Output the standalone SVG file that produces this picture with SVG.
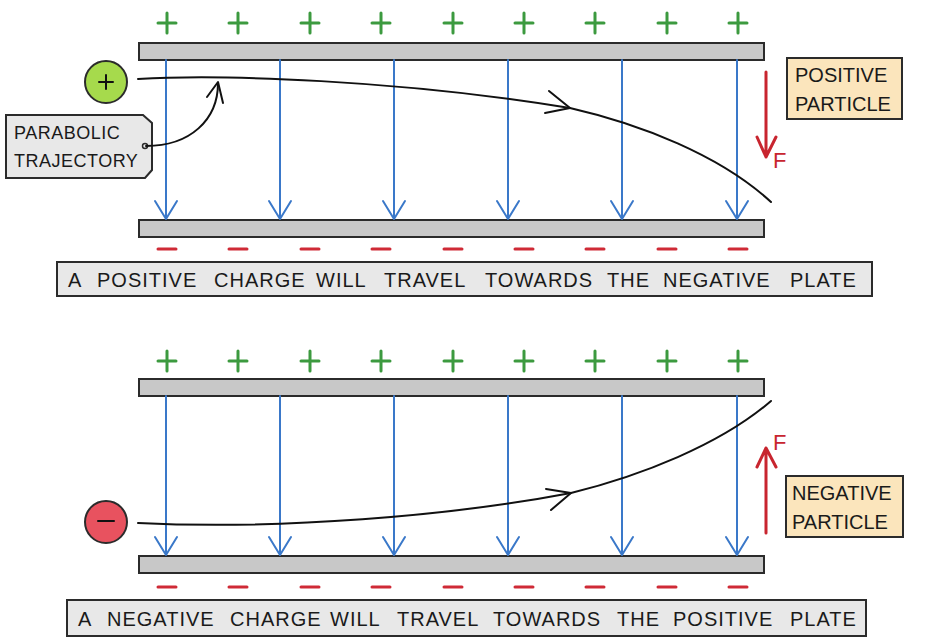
<svg xmlns="http://www.w3.org/2000/svg" width="934" height="640" viewBox="0 0 934 640">
<defs>
<style>
.plate{fill:#c8c8c8;stroke:#2b2b2b;stroke-width:2}
.plus{stroke:#3c9a3f;stroke-width:3;stroke-linecap:round;fill:none}
.minus{stroke:#cf2a36;stroke-width:3;stroke-linecap:round;fill:none}
.field{stroke:#3a78c9;stroke-width:2;fill:none;stroke-linecap:round;stroke-linejoin:round}
.traj{stroke:#111;stroke-width:2;fill:none;stroke-linecap:round;stroke-linejoin:round}
.force{stroke:#c8252f;stroke-width:3;fill:none;stroke-linecap:round;stroke-linejoin:round}
.t{font-family:"Liberation Sans",Arial,sans-serif;fill:#1a1a1a}
.cap{font-size:20px;letter-spacing:1px}
.lbl{fill:#fbe5bc;stroke:#2b2b2b;stroke-width:2}
.grey{fill:#e8e8e8;stroke:#2b2b2b;stroke-width:2}
.f{font-family:"Liberation Sans",Arial,sans-serif;font-size:22px;fill:#c8252f}
</style>
<g id="plusSym"><path class="plus" d="M-9,0H9M0,-10V10"/></g>
<g id="minusSym"><path class="minus" d="M-9,0H9"/></g>
<g id="fieldArrow"><path class="field" d="M0,0V159M-11,141L0,159L11,141"/></g>
</defs>

<!-- TOP DIAGRAM -->
<g id="top-plus-charges">
<use href="#plusSym" x="167" y="23"/><use href="#plusSym" x="238" y="23"/><use href="#plusSym" x="310" y="23"/>
<use href="#plusSym" x="381" y="23"/><use href="#plusSym" x="453" y="23"/><use href="#plusSym" x="524" y="23"/>
<use href="#plusSym" x="595" y="23"/><use href="#plusSym" x="667" y="23"/><use href="#plusSym" x="738" y="23"/>
</g>
<g id="top-positive-plate"><rect class="plate" x="139" y="43" width="625" height="17"/></g>
<g id="top-negative-plate"><rect class="plate" x="139" y="220" width="625" height="17"/></g>
<g id="top-minus-charges">
<use href="#minusSym" x="167" y="249"/><use href="#minusSym" x="238" y="249"/><use href="#minusSym" x="310" y="249"/>
<use href="#minusSym" x="381" y="249"/><use href="#minusSym" x="453" y="249"/><use href="#minusSym" x="524" y="249"/>
<use href="#minusSym" x="595" y="249"/><use href="#minusSym" x="667" y="249"/><use href="#minusSym" x="738" y="249"/>
</g>
<g id="top-field-lines">
<use href="#fieldArrow" x="166" y="60"/><use href="#fieldArrow" x="280" y="60"/><use href="#fieldArrow" x="394" y="60"/>
<use href="#fieldArrow" x="508" y="60"/><use href="#fieldArrow" x="622" y="60"/><use href="#fieldArrow" x="737" y="60"/>
</g>
<g id="positive-particle">
<circle cx="106" cy="82" r="21" fill="#a6da4c" stroke="#2b2b2b" stroke-width="2"/>
<path d="M99,82H113M106,75V89" stroke="#111" stroke-width="2" stroke-linecap="round"/>
</g>
<g id="parabolic-label">
<path class="grey" d="M6,115H143L152,123V170L145,178H6Z"/>
<circle cx="145" cy="146" r="2.5" fill="#e8e8e8" stroke="#2b2b2b" stroke-width="1.5"/>
<text class="t" x="14" y="139" font-size="18" letter-spacing="0.5">PARABOLIC</text>
<text class="t" x="14" y="167" font-size="18" letter-spacing="0.5">TRAJECTORY</text>
</g>
<g id="positive-label">
<rect class="lbl" x="787" y="58" width="115" height="61"/>
<text class="t" x="795" y="82" font-size="20">POSITIVE</text>
<text class="t" x="795" y="111" font-size="20">PARTICLE</text>
</g>
<g id="top-caption">
<rect class="grey" x="57" y="262" width="815" height="34"/>
<text class="t cap" y="287"><tspan x="68">A</tspan><tspan x="97">POSITIVE</tspan><tspan x="214">CHARGE</tspan><tspan x="316">WILL</tspan><tspan x="384">TRAVEL</tspan><tspan x="485">TOWARDS</tspan><tspan x="607">THE</tspan><tspan x="663">NEGATIVE</tspan><tspan x="790">PLATE</tspan></text>
</g>
<g id="top-force">
<path class="force" d="M766,72V157M757,137L766,157L776,137"/>
<text class="f" x="773" y="168">F</text>
</g>

<!-- BOTTOM DIAGRAM -->
<g id="bottom-plus-charges">
<use href="#plusSym" x="167" y="361"/><use href="#plusSym" x="238" y="361"/><use href="#plusSym" x="310" y="361"/>
<use href="#plusSym" x="381" y="361"/><use href="#plusSym" x="453" y="361"/><use href="#plusSym" x="524" y="361"/>
<use href="#plusSym" x="595" y="361"/><use href="#plusSym" x="667" y="361"/><use href="#plusSym" x="738" y="361"/>
</g>
<g id="bottom-positive-plate"><rect class="plate" x="139" y="379" width="625" height="17"/></g>
<g id="bottom-negative-plate"><rect class="plate" x="139" y="556" width="625" height="17"/></g>
<g id="bottom-minus-charges">
<use href="#minusSym" x="167" y="587"/><use href="#minusSym" x="238" y="587"/><use href="#minusSym" x="310" y="587"/>
<use href="#minusSym" x="381" y="587"/><use href="#minusSym" x="453" y="587"/><use href="#minusSym" x="524" y="587"/>
<use href="#minusSym" x="595" y="587"/><use href="#minusSym" x="667" y="587"/><use href="#minusSym" x="738" y="587"/>
</g>
<g id="bottom-field-lines">
<use href="#fieldArrow" x="166" y="396"/><use href="#fieldArrow" x="280" y="396"/><use href="#fieldArrow" x="394" y="396"/>
<use href="#fieldArrow" x="508" y="396"/><use href="#fieldArrow" x="622" y="396"/><use href="#fieldArrow" x="737" y="396"/>
</g>
<g id="negative-particle">
<circle cx="106" cy="522" r="21" fill="#e8525f" stroke="#2b2b2b" stroke-width="2"/>
<path d="M98,521H114" stroke="#111" stroke-width="2" stroke-linecap="round"/>
</g>
<g id="negative-label">
<rect class="lbl" x="786" y="476" width="117" height="61"/>
<text class="t" x="792" y="500" font-size="20">NEGATIVE</text>
<text class="t" x="792" y="529" font-size="20">PARTICLE</text>
</g>
<g id="bottom-caption">
<rect class="grey" x="67" y="600" width="799" height="36"/>
<text class="t cap" y="626"><tspan x="78">A</tspan><tspan x="107">NEGATIVE</tspan><tspan x="230">CHARGE</tspan><tspan x="330">WILL</tspan><tspan x="397">TRAVEL</tspan><tspan x="493">TOWARDS</tspan><tspan x="617">THE</tspan><tspan x="673">POSITIVE</tspan><tspan x="790">PLATE</tspan></text>
</g>
<g id="bottom-force">
<path class="force" d="M766,533V448M757,467L766,448L776,467"/>
<text class="f" x="773" y="450">F</text>
</g>

<!-- CONNECTORS -->
<g id="connectors">
<path class="traj" d="M138,79C220,74 400,80 570,108C640,124 720,155 771,202"/>
<path class="traj" d="M549,91L570,108L545,113"/>
<path class="traj" d="M146,146C190,146 218,120 218,83"/>
<path class="traj" d="M207,97L218,82L223,103"/>
<path class="traj" d="M138,523C280,530 450,516 571,493C640,476 720,445 771,401"/>
<path class="traj" d="M546,489L571,493L551,510"/>
</g>
</svg>
